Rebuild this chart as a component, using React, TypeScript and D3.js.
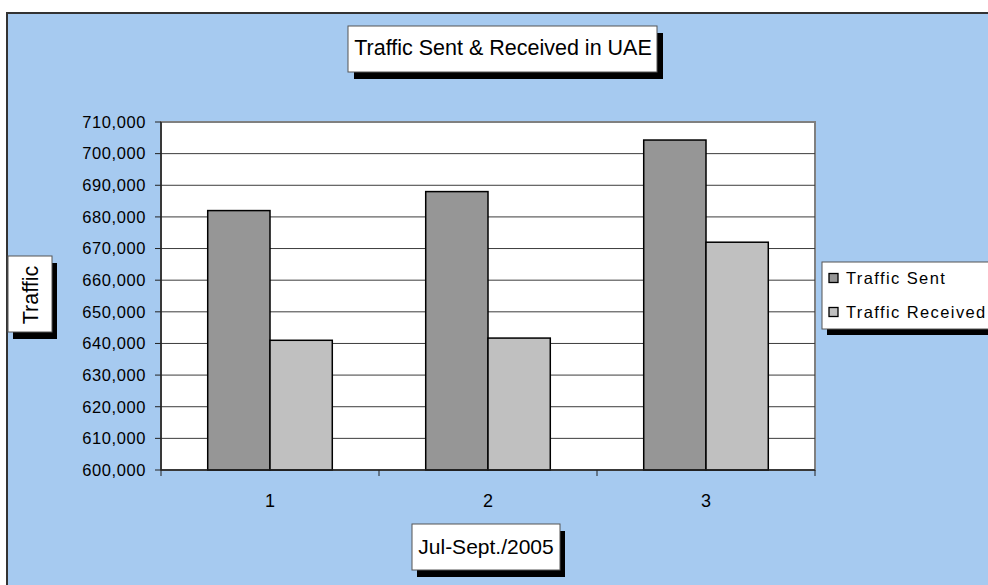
import * as d3 from "d3";

const categories = ["1", "2", "3"];
const seriesNames = ["Traffic Sent", "Traffic Received"];
const trafficSent = [682000, 688000, 704300];
const trafficReceived = [641000, 641700, 672000];
const yTicks = [600000, 610000, 620000, 630000, 640000, 650000, 660000, 670000, 680000, 690000, 700000, 710000];

const colors = ["#969696", "#C0C0C0"];
const font = "'Liberation Sans', Arial, sans-serif";

const plot = { left: 161, right: 815, top: 122, bottom: 470 };

export default function App() {
  const x0 = d3.scaleBand().domain(categories).range([plot.left, plot.right]).padding(0);
  const x1 = d3
    .scaleBand()
    .domain(seriesNames)
    .range([0, x0.bandwidth()])
    .paddingInner(0)
    .paddingOuter(0.75);
  const y = d3.scaleLinear().domain([600000, 710000]).range([plot.bottom, plot.top]);
  const fmt = d3.format(",");

  const values = [trafficSent, trafficReceived];

  // white box with a black drop shadow (titles, legend)
  const shadowBox = (x: number, yy: number, w: number, h: number, dx = 5, dy = 7) => (
    <g>
      <rect x={x + dx} y={yy + dy} width={w} height={h} fill="#000" />
      <rect x={x} y={yy} width={w} height={h} fill="#fff" stroke="#555" strokeWidth={1} />
    </g>
  );

  return (
    <svg
      width={988}
      height={585}
      style={{ position: "absolute", left: 0, top: 0, display: "block" }}
      fontFamily={font}
    >
      <rect x={0} y={0} width={988} height={585} fill="#fff" />
      {/* chart area */}
      <rect x={7} y={13} width={1000} height={600} fill="#A6CAF0" stroke="#333" strokeWidth={2} />

      {/* plot area */}
      <rect
        x={plot.left}
        y={plot.top}
        width={plot.right - plot.left}
        height={plot.bottom - plot.top}
        fill="#fff"
        stroke="#808080"
        strokeWidth={2}
      />

      {/* gridlines and y axis */}
      {yTicks.map((t) => (
        <g key={t}>
          {t !== 600000 && t !== 710000 && (
            <line x1={plot.left} x2={plot.right} y1={y(t)} y2={y(t)} stroke="#3c3c3c" strokeWidth={1} />
          )}
          <line x1={plot.left - 6} x2={plot.left} y1={y(t)} y2={y(t)} stroke="#222" strokeWidth={1} />
          <text
            x={146}
            y={y(t)}
            dy="0.35em"
            textAnchor="end"
            fontSize={16.5}
            letterSpacing={0.6}
            fill="#000"
          >
            {fmt(t)}
          </text>
        </g>
      ))}

      {/* bars */}
      {categories.map((c, i) => (
        <g key={c} transform={`translate(${x0(c)},0)`}>
          {seriesNames.map((s, j) => (
            <rect
              key={s}
              x={x1(s)}
              y={y(values[j][i])}
              width={x1.bandwidth()}
              height={plot.bottom - y(values[j][i])}
              fill={colors[j]}
              stroke="#000"
              strokeWidth={1.5}
            />
          ))}
        </g>
      ))}

      {/* axis lines */}
      <line x1={plot.left} x2={plot.left} y1={plot.top} y2={plot.bottom} stroke="#222" strokeWidth={1.5} />
      <line x1={plot.left} x2={plot.right} y1={plot.bottom} y2={plot.bottom} stroke="#222" strokeWidth={1.5} />
      {[...categories.map((c) => x0(c) as number), plot.right].map((v, i) => (
        <line key={i} x1={v} x2={v} y1={plot.bottom} y2={plot.bottom + 6} stroke="#222" strokeWidth={1} />
      ))}
      {categories.map((c) => (
        <text
          key={c}
          x={(x0(c) as number) + x0.bandwidth() / 2}
          y={501}
          dy="0.35em"
          textAnchor="middle"
          fontSize={18}
        >
          {c}
        </text>
      ))}

      {/* title */}
      {shadowBox(348, 26, 309, 46, 6, 7)}
      <text x={503} y={47} dy="0.35em" textAnchor="middle" fontSize={21.5}>
        Traffic Sent &amp; Received in UAE
      </text>

      {/* y axis title */}
      {shadowBox(8, 256, 44, 76, 5, 7)}
      <text
        transform="translate(30,295) rotate(-90)"
        dy="0.35em"
        textAnchor="middle"
        fontSize={21.5}
      >
        Traffic
      </text>

      {/* x axis title */}
      {shadowBox(412, 524, 148, 46, 5, 7)}
      <text x={486} y={547} dy="0.35em" textAnchor="middle" fontSize={21}>
        Jul-Sept./2005
      </text>

      {/* legend */}
      {shadowBox(822, 262, 180, 67, 5, 6)}
      {seriesNames.map((s, j) => (
        <g key={s} transform={`translate(829,${278 + j * 34})`}>
          <rect x={0} y={-4.5} width={9} height={9} fill={colors[j]} stroke="#000" strokeWidth={1.3} />
          <text x={17} y={0} dy="0.35em" fontSize={16.5} letterSpacing={1.4}>
            {s}
          </text>
        </g>
      ))}
    </svg>
  );
}
